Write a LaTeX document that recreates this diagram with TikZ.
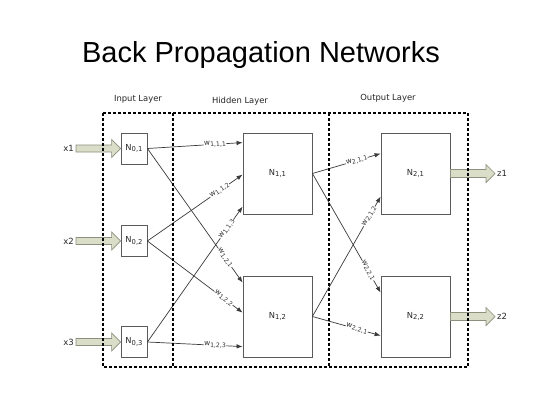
\documentclass[tikz,border=0pt]{standalone}
\usepackage{fontspec}
\setmainfont{Liberation Sans}
\newfontfamily\dv{DejaVu Sans}
\usetikzlibrary{arrows.meta,calc}

\definecolor{fatfill}{HTML}{DADDC8}
\definecolor{fatdraw}{HTML}{8C907C}
\definecolor{wirec}{HTML}{3A3A3A}
\definecolor{boxc}{HTML}{5A5A5A}

\newcommand\Nn[1]{N\raisebox{-0.35ex}{\fontsize{6.8}{7}\selectfont #1}}
\newcommand\Ww[1]{w\raisebox{-0.35ex}{\fontsize{6.2}{6.5}\selectfont #1}}

\tikzset{
  neuron/.style={draw=boxc, line width=0.8pt, fill=white, inner sep=0pt,
    font=\dv\fontsize{8.3}{9}\selectfont, text=black!85},
  inbox/.style={neuron, minimum width=26pt, minimum height=31pt},
  bigbox/.style={neuron, minimum width=69pt, minimum height=81pt},
  wire/.style={draw=wirec, line width=0.7pt, -{Latex[length=6pt,width=4.5pt]}},
  wlab/.style={sloped, fill=white, inner sep=0.4pt,
    font=\dv\fontsize{7.4}{8}\selectfont, text=black!80},
  fat/.style={draw=fatdraw, fill=fatfill, line width=0.7pt},
  layerline/.style={draw=black, line width=1.8pt, dash pattern=on 3pt off 2pt},
  iolab/.style={inner sep=1pt, font=\dv\fontsize{8.5}{9}\selectfont, text=black!85},
  laylab/.style={anchor=base, inner sep=0pt, font=\dv\fontsize{8.4}{9}\selectfont, text=black!85},
}

\begin{document}
\begin{tikzpicture}[x=1pt,y=-1pt]
\useasboundingbox[fill=white] (0,0) rectangle (560,420);

% title
\node[anchor=base, inner sep=0pt, font=\fontsize{29}{34}\selectfont] (title) at (261,63) {Back Propagation Networks};

% layer labels
\node[laylab] (linput) at (138,102) {Input Layer};
\node[laylab] (lhidden) at (240,103) {Hidden Layer};
\node[laylab] (loutput) at (388,101) {Output Layer};

% neurons
\node[inbox] (n01) at (134,148.5) {\Nn{0,1}};
\node[inbox] (n02) at (134,241) {\Nn{0,2}};
\node[inbox] (n03) at (134,342) {\Nn{0,3}};
\node[bigbox] (n11) at (277.5,173.5) {\Nn{1,1}};
\node[bigbox] (n12) at (277.5,316.5) {\Nn{1,2}};
\node[bigbox] (n21) at (415.5,173.5) {\Nn{2,1}};
\node[bigbox] (n22) at (415.5,316.5) {\Nn{2,2}};

% inputs / outputs labels
\node[iolab, anchor=east] (x1) at (75,148.5) {x1};
\node[iolab, anchor=east] (x2) at (75,241) {x2};
\node[iolab, anchor=east] (x3) at (75,342) {x3};
\node[iolab, anchor=west] (z1) at (496,173.5) {z1};
\node[iolab, anchor=west] (z2) at (496,316.5) {z2};

% fat input arrows
\foreach \s/\t in {x1/n01, x2/n02, x3/n03}{
  \draw[fat] let \p1=(\s.east), \p2=(\t.west) in
    (\x1+1pt,\y2+3.5pt) -- (\x2-9pt,\y2+3.5pt) -- (\x2-9pt,\y2+9pt) -- (\x2,\y2)
    -- (\x2-9pt,\y2-9pt) -- (\x2-9pt,\y2-3.5pt) -- (\x1+1pt,\y2-3.5pt) -- cycle;
}
% fat output arrows
\foreach \s/\t in {n21/z1, n22/z2}{
  \draw[fat] let \p1=(\s.east), \p2=(\t.west) in
    (\x1,\y1+4pt) -- (\x2-10pt,\y1+4pt) -- (\x2-10pt,\y1+9pt) -- (\x2-1pt,\y1)
    -- (\x2-10pt,\y1-9pt) -- (\x2-10pt,\y1-4pt) -- (\x1,\y1-4pt) -- cycle;
}

% input -> hidden
\draw[wire] (n01.east) -- node[wlab, pos=0.71] {\Ww{1,1,1}} ([yshift=-10pt]n11.north west);
\draw[wire] (n02.east) -- node[wlab, pos=0.76] {\Ww{1,1,2}} ([yshift=-42pt]n11.north west);
\draw[wire] (n03.east) -- node[wlab, pos=0.835] {\Ww{1,1,3}} ([yshift=-74pt]n11.north west);
\draw[wire] (n01.east) -- node[wlab, pos=0.815] {\Ww{1,2,1}} ([yshift=-7pt]n12.north west);
\draw[wire] (n02.east) -- node[wlab, pos=0.80] {\Ww{1,2,2}} ([yshift=-37pt]n12.north west);
\draw[wire] (n03.east) -- node[wlab, pos=0.71] {\Ww{1,2,3}} ([yshift=-71pt]n12.north west);

% hidden -> output
\draw[wire] (n11.east) -- node[wlab, pos=0.65] {\Ww{2,1,1}} ([yshift=-21pt]n21.north west);
\draw[wire] (n12.east) -- node[wlab, pos=0.835] {\Ww{2,1,2}} ([yshift=-64pt]n21.north west);
\draw[wire] (n11.east) -- node[wlab, pos=0.815] {\Ww{2,2,1}} ([yshift=-17pt]n22.north west);
\draw[wire] (n12.east) -- node[wlab, pos=0.65] {\Ww{2,2,1}} ([yshift=-60pt]n22.north west);

% layer frames
\coordinate (fTL) at (103,113);
\coordinate (fBR) at (468,367);
\coordinate (d1t) at (173,113);
\coordinate (d1b) at (173,367);
\coordinate (d2t) at (329,113);
\coordinate (d2b) at (329,367);
\draw[layerline] (fTL) rectangle (fBR);
\draw[layerline] (d1t) -- (d1b);
\draw[layerline] (d2t) -- (d2b);
\end{tikzpicture}
\end{document}
